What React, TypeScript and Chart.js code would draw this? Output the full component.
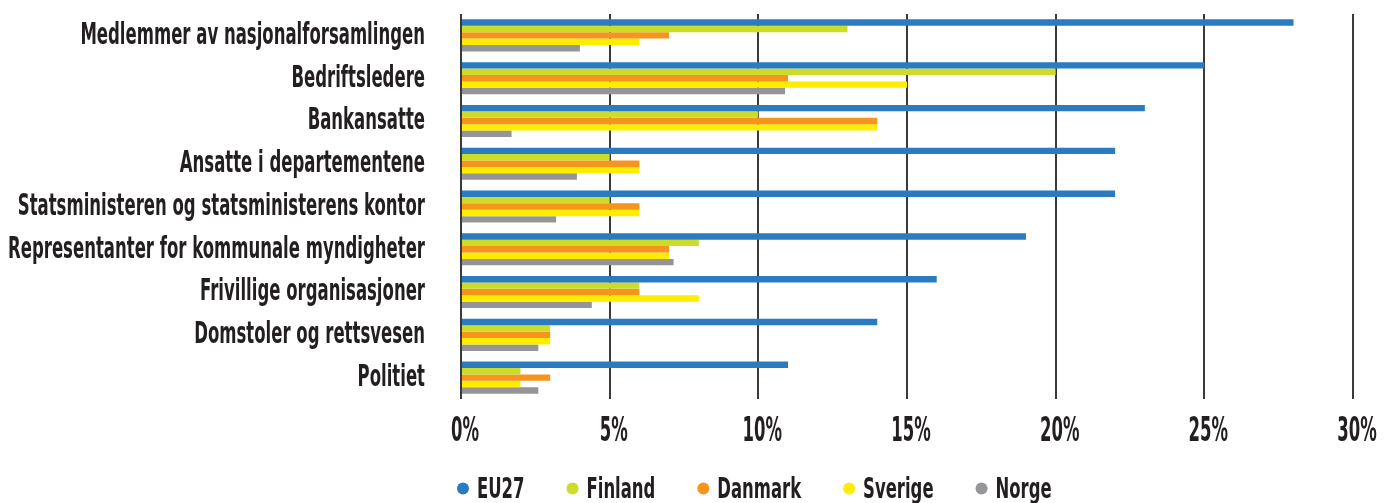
import React, { useEffect, useRef } from "react";
import { Chart, registerables } from "chart.js";

Chart.register(...registerables);

const categories = [
  "Medlemmer av nasjonalforsamlingen",
  "Bedriftsledere",
  "Bankansatte",
  "Ansatte i departementene",
  "Statsministeren og statsministerens kontor",
  "Representanter for kommunale myndigheter",
  "Frivillige organisasjoner",
  "Domstoler og rettsvesen",
  "Politiet",
];

const seriesNames = ["EU27", "Finland", "Danmark", "Sverige", "Norge"];
const eu27 = [28, 25, 23, 22, 22, 19, 16, 14, 11];
const finland = [13, 20, 10, 5, 5, 8, 6, 3, 2];
const danmark = [7, 11, 14, 6, 6, 7, 6, 3, 3];
const sverige = [6, 15, 14, 6, 6, 7, 8, 3, 2];
const norge = [4, 10.9, 1.7, 3.9, 3.2, 7.15, 4.4, 2.6, 2.6];
const xTicks = [0, 5, 10, 15, 20, 25, 30];

const colors = ["#2B7BC0", "#CDDC29", "#F7941D", "#FFED00", "#939598"];
const FONT = '"DejaVu Sans Condensed", "DejaVu Sans", sans-serif';
const TEXT = "#231F20";

// drawing styles for the condensed text
const Y_FONT = 30;
const Y_LABEL_WIDEST = 417; // px width of widest category label
const X_FONT = 33;
const X_ZERO_WIDTH = 28; // px width of "0%"
const LEG_FONT = 29;
const LEG_EU_WIDTH = 47.5; // px width of "EU27"
const CAP = 0.729;

function drawCondensed(ctx: CanvasRenderingContext2D, text: string, x: number, y: number, sx: number, align: CanvasTextAlign) {
  ctx.save();
  ctx.translate(x, y);
  ctx.scale(sx, 1);
  ctx.textAlign = align;
  ctx.textBaseline = "alphabetic";
  ctx.fillText(text, 0, 0);
  ctx.restore();
}

const condensedText = {
  id: "condensedText",
  afterDraw(chart: any) {
    const ctx: CanvasRenderingContext2D = chart.ctx;
    const xs = chart.scales.x;
    const ys = chart.scales.y;
    ctx.save();
    ctx.fillStyle = TEXT;

    // category labels
    ctx.font = `bold ${Y_FONT}px ${FONT}`;
    const widest = Math.max(...categories.map((c) => ctx.measureText(c).width));
    const sy = Y_LABEL_WIDEST / widest;
    const labelRight = chart.chartArea.left - 36;
    categories.forEach((c, i) => {
      const yc = ys.getPixelForTick(i) - 2.5;
      drawCondensed(ctx, c, labelRight, yc + (CAP * Y_FONT) / 2, sy, "right");
    });

    // x tick labels
    ctx.font = `bold ${X_FONT}px ${FONT}`;
    const sxT = X_ZERO_WIDTH / ctx.measureText("0%").width;
    const tickBase = chart.chartArea.bottom + 42;
    xTicks.forEach((v) => {
      drawCondensed(ctx, v + "%", xs.getPixelForValue(v) + 4, tickBase, sxT, "center");
    });

    // legend
    ctx.font = `bold ${LEG_FONT}px ${FONT}`;
    const sxL = LEG_EU_WIDTH / ctx.measureText(seriesNames[0]).width;
    const legBase = 498;
    const legCenter = legBase - (CAP * LEG_FONT) / 2;
    let x = chart.chartArea.left - 4;
    chart.data.datasets.forEach((ds: any) => {
      ctx.fillStyle = ds.backgroundColor;
      ctx.beginPath();
      ctx.arc(x + 6, legCenter + 1, 6, 0, Math.PI * 2);
      ctx.fill();
      x += 20;
      ctx.fillStyle = TEXT;
      drawCondensed(ctx, ds.label, x, legBase, sxL, "left");
      x += ctx.measureText(ds.label).width * sxL + 42;
    });
    ctx.restore();
  },
};

export default function App() {
  const ref = useRef<HTMLCanvasElement>(null);
  useEffect(() => {
    const seriesData = [eu27, finland, danmark, sverige, norge];
    const chart = new Chart(ref.current!, {
      type: "bar",
      data: {
        labels: categories,
        datasets: seriesNames.map((name, i) => ({
          label: name,
          data: seriesData[i],
          backgroundColor: colors[i],
          borderWidth: 0,
          barPercentage: 1,
          categoryPercentage: 0.75,
        })),
      },
      options: {
        indexAxis: "y",
        animation: false,
        responsive: true,
        maintainAspectRatio: false,
        layout: { padding: { top: 14, right: 38, bottom: 0, left: 0 } },
        plugins: { legend: { display: false }, tooltip: { enabled: false } },
        scales: {
          x: {
            min: 0,
            max: 30,
            afterBuildTicks: (s: any) => {
              s.ticks = xTicks.map((v) => ({ value: v }));
            },
            afterFit: (s: any) => {
              s.height = 104;
            },
            grid: { color: "#3a3a3a", lineWidth: 2, drawTicks: false },
            border: { display: false },
            ticks: { display: false },
          },
          y: {
            afterFit: (s: any) => {
              s.width = 461;
            },
            grid: { display: false, drawTicks: false },
            border: { display: false },
            ticks: { display: false },
          },
        },
      },
      plugins: [condensedText],
    });
    return () => chart.destroy();
  }, []);

  return (
    <div style={{ position: "fixed", left: 0, top: 0, width: 1391, height: 503, background: "#fff", overflow: "hidden" }}>
      <canvas ref={ref} />
    </div>
  );
}
